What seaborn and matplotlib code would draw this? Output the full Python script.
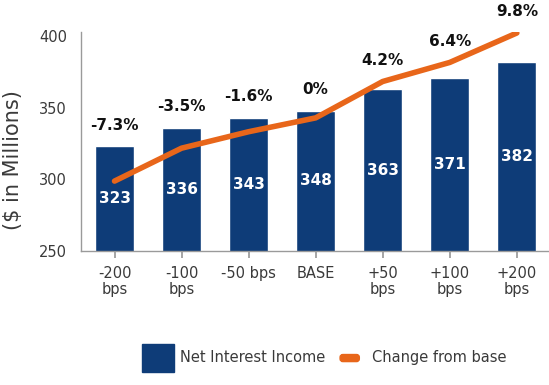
import matplotlib
matplotlib.use("Agg")
import matplotlib.pyplot as plt
import seaborn as sns
import pandas as pd
from matplotlib.patches import Patch, FancyBboxPatch
from matplotlib.legend_handler import HandlerPatch

categories = ["-200\nbps", "-100\nbps", "-50 bps", "BASE", "+50\nbps", "+100\nbps", "+200\nbps"]
nii_values = [323, 336, 343, 348, 363, 371, 382]
change_pct = [-7.3, -3.5, -1.6, 0.0, 4.2, 6.4, 9.8]
change_labels = ["-7.3%", "-3.5%", "-1.6%", "0%", "4.2%", "6.4%", "9.8%"]

BAR = "#0E3C78"
ORANGE = "#E8661A"
GRAY = "#9A9A9A"
TXT = "#3A3A3A"

sns.set_theme(style="white")
plt.rcParams["font.family"] = ["DejaVu Sans"]

df = pd.DataFrame({"cat": categories, "nii": nii_values, "pct": change_pct})

fig = plt.figure(figsize=(5.49, 3.85), dpi=100)
ax = fig.add_axes([0.1475, 0.348, 0.855, 0.569])
sns.barplot(data=df, x="cat", y="nii", color=BAR, width=0.58, saturation=1, ax=ax)
ax.set_ylim(250, 403)
ax.set_xlim(-0.5, 6.5)
ax.set_yticks([250, 300, 350, 400])
ax.set_xlabel("")
ax.set_ylabel("($ in Millions)", fontsize=15, color=TXT)
ax.yaxis.set_label_coords(-0.124, 0.415)
for s in ["top", "right"]:
    ax.spines[s].set_visible(False)
for s in ["left", "bottom"]:
    ax.spines[s].set_color(GRAY)
    ax.spines[s].set_linewidth(1.0)
ax.tick_params(axis="y", length=0, labelsize=10.5, labelcolor=TXT, pad=10)
ax.tick_params(axis="x", length=5, color=GRAY, direction="out", labelsize=10.5,
               labelcolor=TXT, pad=6, bottom=True)
for lbl in ax.get_xticklabels():
    lbl.set_verticalalignment("top")
    lbl.set_linespacing(1.05)

ax.bar_label(ax.containers[0], labels=[str(v) for v in nii_values], label_type="center",
             color="white", fontsize=11, fontweight="bold")

ax2 = ax.twinx()
sns.lineplot(x=list(range(len(categories))), y=change_pct, color=ORANGE, linewidth=4,
             ax=ax2, solid_capstyle="round")
lo, hi = (250 - 343) / 6.05, (403 - 343) / 6.05
ax2.set_ylim(lo, hi)
ax2.set_yticks([])
for s in ax2.spines.values():
    s.set_visible(False)
ax.set_xlim(-0.5, 6.5)

for i, (v, p, t) in enumerate(zip(nii_values, change_pct, change_labels)):
    line_equiv = 343 + 6.05 * p
    top = max(v, line_equiv)
    ax.annotate(t, (i, top), xytext=(0, 10), textcoords="offset points",
                ha="center", va="bottom", fontsize=11, fontweight="bold", color="#111111",
                annotation_clip=False)


def small_bar(legend, orig_handle, xdescent, ydescent, width, height, fontsize):
    w = width * 0.6
    h = height * 0.25
    return FancyBboxPatch((-xdescent + (width - w) / 2, -ydescent + (height - h) / 2), w, h,
                          boxstyle="round,pad=0,rounding_size=2")


handles = [Patch(facecolor=BAR, edgecolor=BAR),
           Patch(facecolor=ORANGE, edgecolor=ORANGE)]
fig.legend(handles, ["Net Interest Income", "Change from base"], loc="center",
           bbox_to_anchor=(0.59, 0.07), ncol=2, frameon=False, fontsize=10.5,
           handlelength=2.2, handleheight=2.6, columnspacing=0.6, handletextpad=0.4,
           labelcolor=TXT,
           handler_map={handles[1]: HandlerPatch(patch_func=small_bar)})

fig.savefig("out.png", dpi=100)
